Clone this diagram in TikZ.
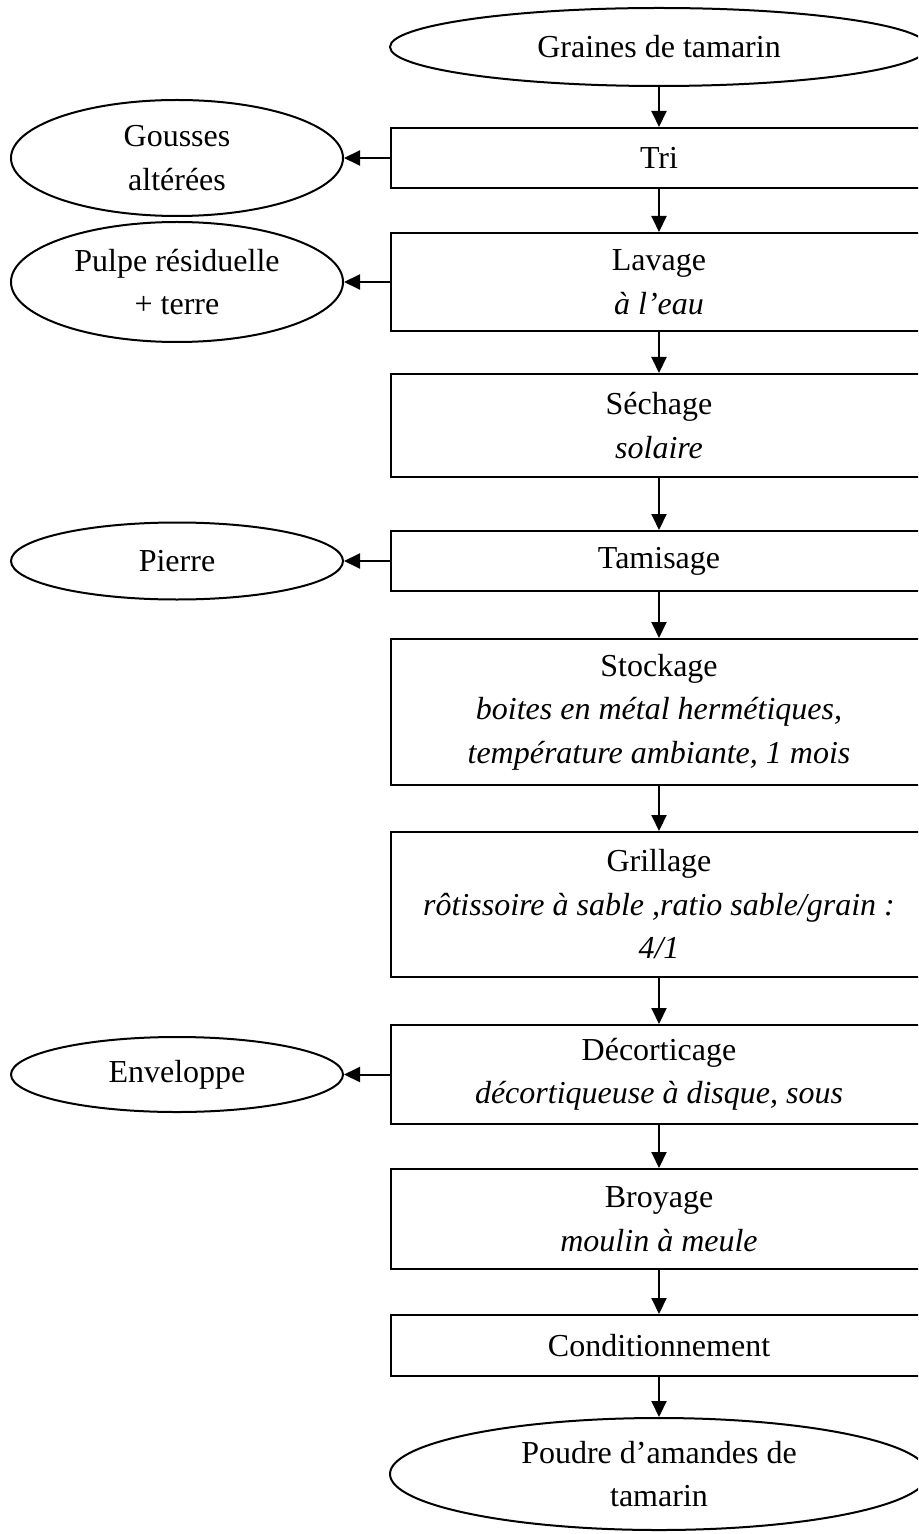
\documentclass[tikz,border=0pt]{standalone}
\usepackage{fontspec}
\setmainfont{Liberation Serif}
\usetikzlibrary{arrows.meta,positioning,shapes.geometric}

\begin{document}
\begin{tikzpicture}[x=0.5pt, y=-0.5pt,
      >={Triangle[length=8pt,width=7.5pt]},
      every node/.style={font=\fontsize{16}{21.75}\selectfont, line width=1pt},
      stepbox/.style={draw, rectangle, minimum width=268pt, inner sep=0pt, align=center},
      ends/.style={draw, ellipse, minimum width=269pt, inner sep=0pt, align=center},
      waste/.style={draw, ellipse, minimum width=166pt, inner sep=0pt, align=center},
      flow/.style={->, line width=1pt}]
  \useasboundingbox (0,0) rectangle (918,1534);
  \clip (0,0) rectangle (918,1534);

  % main line
  \node[ends, minimum height=39pt] (graines) at (659,47) {Graines de tamarin};
  \node[stepbox, minimum height=30pt] (tri) at (659,158) {Tri};
  \node[stepbox, minimum height=49pt] (lavage) at (659,282) {Lavage\\\textit{à l’eau}};
  \node[stepbox, minimum height=51.5pt] (sechage) at (659,425.5) {Séchage\\\textit{solaire}};
  \node[stepbox, minimum height=30pt] (tamisage) at (659,561) {Tamisage};
  \node[stepbox, minimum height=73pt] (stockage) at (659,712) {Stockage\\\textit{boites en métal hermétiques,}\\\textit{température ambiante, 1 mois}};
  \node[stepbox, minimum height=72.5pt] (grillage) at (659,904.5) {Grillage\\\textit{rôtissoire à sable ,ratio sable/grain :}\\\textit{4/1}};
  \node[stepbox, minimum height=49.5pt] (decorticage) at (659,1074.5) {Décorticage\\\textit{décortiqueuse à disque, sous}};
  \node[stepbox, minimum height=50pt] (broyage) at (659,1219) {Broyage\\\textit{moulin à meule}};
  \node[stepbox, minimum height=30.5pt] (condit) at (659,1345.5) {Conditionnement};
  \node[ends, minimum height=56pt] (poudre) at (659,1474) {Poudre d’amandes de\\tamarin};

  % rejects
  \node[waste, left=23pt of tri, minimum height=58pt] (gousses) {Gousses\\altérées};
  \node[waste, left=23pt of lavage, minimum height=60pt] (pulpe) {Pulpe résiduelle\\+ terre};
  \node[waste, left=23pt of tamisage, minimum height=38.5pt] (pierre) {Pierre};
  \node[waste, left=23pt of decorticage, minimum height=37.5pt] (enveloppe) {Enveloppe};

  \draw[flow] (graines) -- (tri);
  \draw[flow] (tri) -- (lavage);
  \draw[flow] (lavage) -- (sechage);
  \draw[flow] (sechage) -- (tamisage);
  \draw[flow] (tamisage) -- (stockage);
  \draw[flow] (stockage) -- (grillage);
  \draw[flow] (grillage) -- (decorticage);
  \draw[flow] (decorticage) -- (broyage);
  \draw[flow] (broyage) -- (condit);
  \draw[flow] (condit) -- (poudre);

  \draw[flow] (tri) -- (gousses);
  \draw[flow] (lavage) -- (pulpe);
  \draw[flow] (tamisage) -- (pierre);
  \draw[flow] (decorticage) -- (enveloppe);
\end{tikzpicture}
\end{document}
